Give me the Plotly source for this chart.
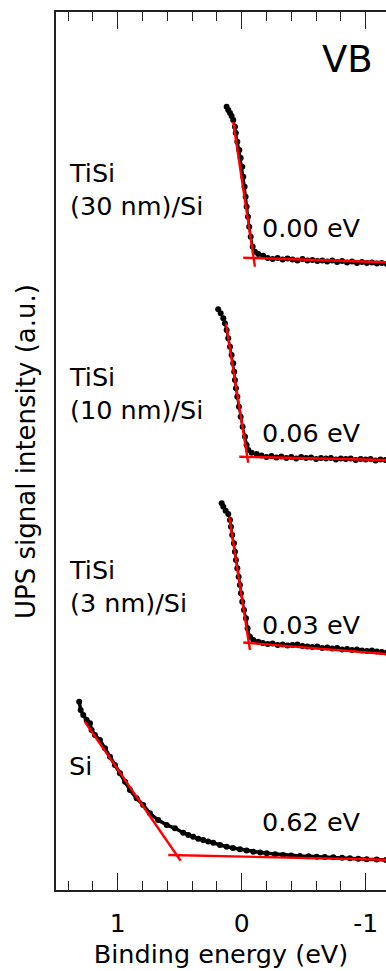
import plotly.graph_objects as go

# ---- data (binding energy in eV, intensity in a.u.) ----
be_30 = [0.121, 0.108, 0.094, 0.081, 0.068, 0.054, 0.047, 0.035, 0.019, 0.008, -0.005, -0.013,
         -0.024, -0.032, -0.040, -0.051, -0.061, -0.073, -0.089, -0.107, -0.134, -0.174,
         -0.21, -0.25, -0.29, -0.33, -0.37, -0.41, -0.45, -0.49, -0.53, -0.57, -0.61, -0.65,
         -0.69, -0.73, -0.77, -0.81, -0.85, -0.89, -0.93, -0.97, -1.01, -1.05, -1.09, -1.13, -1.17]
int_30 = [78.33, 78.0, 77.7, 77.4, 77.0, 76.33, 75.7, 74.83, 74.0, 73.2, 72.33, 71.33,
          70.33, 69.33, 68.33, 67.33, 66.33, 65.33, 64.33, 63.83, 63.6, 63.43,
          63.2, 63.1, 63.2, 63.05, 63.15, 63.05, 62.95, 63.1, 62.95, 63.0, 62.9, 62.95,
          62.85, 62.95, 62.8, 62.9, 62.75, 62.85, 62.7, 62.8, 62.7, 62.75, 62.65, 62.7, 62.6]

be_10 = [0.189, 0.169, 0.148, 0.135, 0.121, 0.108, 0.094, 0.081, 0.068, 0.060, 0.054, 0.046,
         0.035, 0.022, 0.008, -0.008, -0.027, -0.040, -0.054, -0.081, -0.121,
         -0.16, -0.20, -0.24, -0.28, -0.32, -0.36, -0.40, -0.44, -0.48, -0.52, -0.56, -0.60,
         -0.64, -0.68, -0.72, -0.76, -0.80, -0.84, -0.88, -0.92, -0.96, -1.00, -1.04, -1.08,
         -1.12, -1.16]
int_10 = [58.07, 57.67, 57.17, 56.67, 56.0, 55.17, 54.33, 53.5, 52.67, 51.83, 51.0, 50.17,
          49.33, 48.33, 47.33, 46.33, 45.33, 44.5, 44.0, 43.73, 43.6,
          43.45, 43.3, 43.4, 43.25, 43.35, 43.2, 43.3, 43.15, 43.3, 43.2, 43.25, 43.1,
          43.2, 43.15, 43.2, 43.05, 43.15, 43.1, 43.15, 43.0, 43.1, 43.05, 43.1, 42.95,
          43.05, 43.0]

be_3 = [0.161, 0.148, 0.129, 0.108, 0.094, 0.086, 0.076, 0.062, 0.054, 0.046, 0.035, 0.024,
        0.014, 0.006, -0.005, -0.019, -0.035, -0.048, -0.067, -0.094, -0.134,
        -0.17, -0.21, -0.25, -0.29, -0.33, -0.37, -0.41, -0.45, -0.49, -0.53, -0.57, -0.61,
        -0.65, -0.69, -0.73, -0.77, -0.81, -0.85, -0.89, -0.93, -0.97, -1.01, -1.05, -1.09,
        -1.13, -1.17]
int_3 = [38.67, 38.33, 37.93, 37.6, 37.0, 36.33, 35.5, 34.67, 33.83, 33.0, 32.17, 31.33,
         30.5, 29.67, 28.83, 28.0, 27.17, 26.17, 25.33, 25.0, 24.83,
         24.7, 24.6, 24.65, 24.5, 24.55, 24.45, 24.5, 24.55, 24.4, 24.35, 24.3, 24.35,
         24.2, 24.25, 24.15, 24.2, 24.05, 24.1, 24.0, 24.05, 23.95, 23.9, 23.95, 23.85,
         23.8, 23.75]

be_si = [1.310, 1.298, 1.277, 1.250, 1.223, 1.210, 1.183, 1.143, 1.102, 1.062, 1.022, 0.981,
         0.940, 0.901, 0.847, 0.794, 0.740, 0.673, 0.605, 0.538, 0.471, 0.430, 0.390, 0.350,
         0.310, 0.270, 0.229, 0.175, 0.121, 0.070, 0.014, -0.040, -0.094, -0.150, -0.202,
         -0.270, -0.335, -0.400, -0.470, -0.540, -0.605, -0.670, -0.739, -0.810, -0.873,
         -0.940, -1.008, -1.090, -1.164]
int_si = [18.83, 18.0, 17.5, 17.0, 16.67, 16.0, 15.5, 15.0, 14.17, 13.33, 12.5, 11.67,
          10.83, 10.0, 9.17, 8.5, 7.67, 7.0, 6.5, 6.17, 5.73, 5.5, 5.33, 5.12,
          5.0, 4.85, 4.73, 4.5, 4.33, 4.2, 4.07, 3.95, 3.83, 3.75, 3.67,
          3.58, 3.5, 3.45, 3.4, 3.38, 3.33, 3.3, 3.27, 3.22, 3.17,
          3.12, 3.07, 3.05, 3.0]

# linear fits (valence-band edge and background), endpoints
fit_edge_x = {"30": [0.068, -0.107], "10": [0.127, -0.053], "3": [0.100, -0.067], "si": [1.264, 0.492]}
fit_edge_y = {"30": [76.83, 62.33], "10": [56.67, 42.73], "3": [37.33, 24.0], "si": [16.83, 2.93]}
fit_base_x = {"30": [-0.013, -1.2], "10": [0.019, -1.2], "3": [-0.013, -1.2], "si": [0.592, -1.2]}
fit_base_y = {"30": [63.23, 62.755], "10": [43.33, 42.99], "3": [24.75, 23.56], "si": [3.5, 3.02]}

sample_labels = ["TiSi<br>(30 nm)/Si", "TiSi<br>(10 nm)/Si", "TiSi<br>(3 nm)/Si", "Si"]
sample_label_y = [70.1, 49.7, 30.4, 12.4]
shift_labels = ["0.00 eV", "0.06 eV", "0.03 eV", "0.62 eV"]
shift_label_y = [66.25, 45.75, 26.55, 6.85]

tick_vals = [1, 0, -1]
tick_text = ["1", "0", "-1"]

FONT = "DejaVu Sans"
fig = go.Figure()

series = [("30", be_30, int_30, 2.5), ("10", be_10, int_10, 2.5), ("3", be_3, int_3, 2.5), ("si", be_si, int_si, 3.5)]
for key, xs, ys, lw in series:
    fig.add_trace(go.Scatter(x=xs, y=ys, mode="lines+markers",
                             line=dict(color="black", width=lw),
                             marker=dict(color="black", size=6),
                             showlegend=False, hoverinfo="skip"))
for key, _, _, _ in series:
    for fx, fy in ((fit_edge_x[key], fit_edge_y[key]), (fit_base_x[key], fit_base_y[key])):
        fig.add_trace(go.Scatter(x=fx, y=fy, mode="lines",
                                 line=dict(color="#ff0000", width=2.4),
                                 showlegend=False, hoverinfo="skip"))

for txt, yy in zip(sample_labels, sample_label_y):
    fig.add_annotation(x=1.405, y=yy, xref="x", yref="y", text=txt, showarrow=False,
                       xanchor="left", yanchor="middle", align="left",
                       font=dict(family=FONT, size=25.5, color="black"))
for txt, yy in zip(shift_labels, shift_label_y):
    fig.add_annotation(x=-0.150, y=yy, xref="x", yref="y", text=txt, showarrow=False,
                       xanchor="left", yanchor="middle",
                       font=dict(family=FONT, size=25.5, color="black"))
fig.add_annotation(x=-0.630, y=83.1, xref="x", yref="y", text="VB", showarrow=False,
                   xanchor="left", yanchor="middle",
                   font=dict(family=FONT, size=37, color="black"))
fig.add_annotation(x=-0.091, y=0.5, xref="paper", yref="paper", text="UPS signal intensity (a.u.)",
                   textangle=-90, showarrow=False, xanchor="center", yanchor="middle",
                   font=dict(family=FONT, size=26, color="black"))

fig.update_layout(
    width=386, height=971,
    margin=dict(l=56, r=0, t=12, b=81),
    paper_bgcolor="white", plot_bgcolor="white",
    font=dict(family=FONT, size=25, color="black"),
    xaxis=dict(range=[1.497, -1.164], showgrid=False, zeroline=False,
               showline=True, linecolor="#222", linewidth=1.5, mirror="ticks",
               ticks="inside", ticklen=17, tickwidth=1.3, tickcolor="#222",
               tickvals=tick_vals, ticktext=tick_text, ticklabelstandoff=10,
               tickfont=dict(family=FONT, size=25, color="black"),
               minor=dict(dtick=0.2, ticks="inside", ticklen=9, tickwidth=1.3, tickcolor="#222"),
               title=dict(text="Binding energy (eV)", font=dict(family=FONT, size=25.5, color="black"),
                          standoff=8)),
    yaxis=dict(range=[0, 87.8], showgrid=False, zeroline=False, showticklabels=False,
               showline=True, linecolor="#222", linewidth=1.5, mirror=False, ticks=""),
)

fig.write_html("out.html")
